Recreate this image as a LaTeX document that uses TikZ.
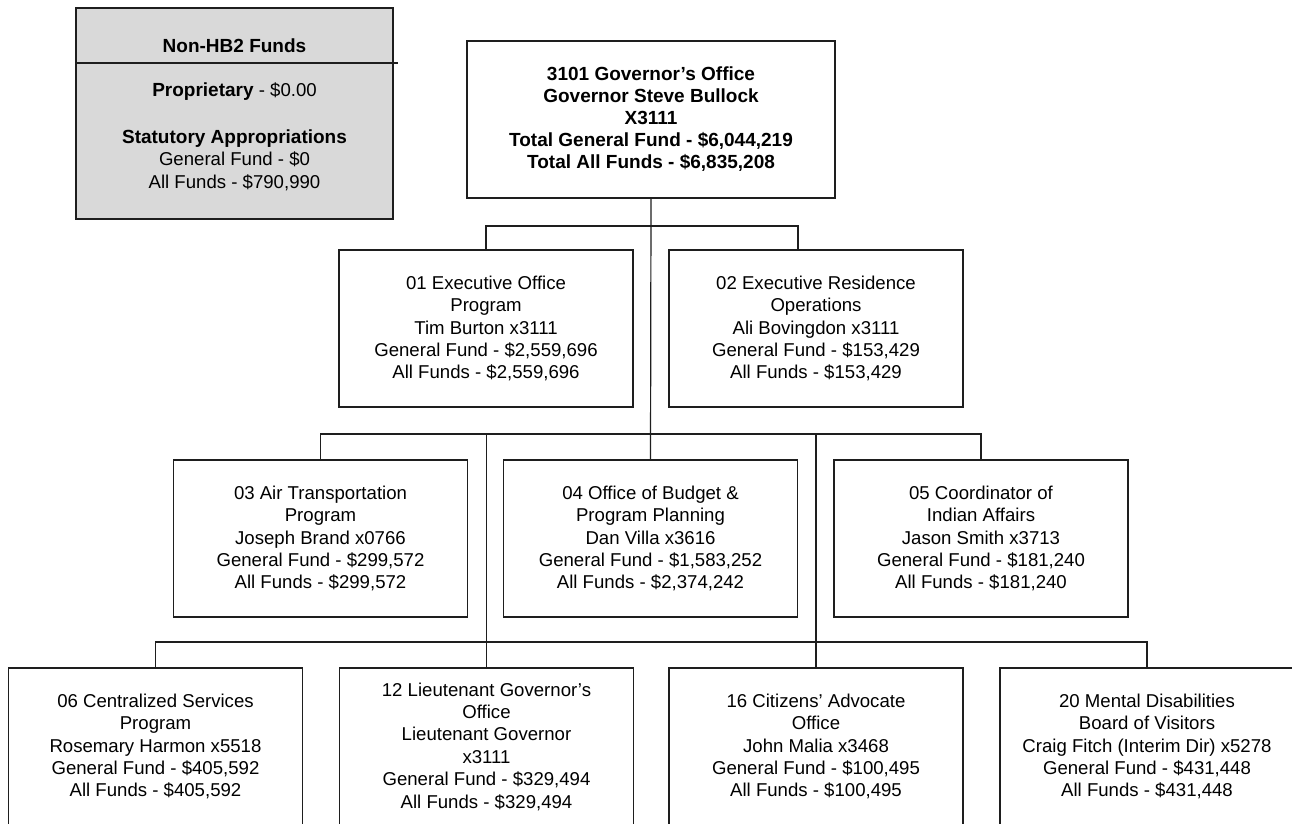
\documentclass[tikz,border=0pt]{standalone}
\usepackage{fontspec}
\setmainfont{Liberation Sans}
\definecolor{boxgray}{RGB}{217,217,217}
\definecolor{linecol}{RGB}{30,30,30}
\tikzset{
  orgbox/.style={draw=linecol, line width=1.2pt, fill=white, inner sep=0pt,
    minimum width=294pt, minimum height=157pt, align=center,
    font=\fontsize{18.6}{22.4}\selectfont},
  topbox/.style={orgbox, minimum width=368pt, minimum height=157pt,
    font=\fontsize{19}{22}\selectfont\bfseries},
  conn/.style={draw=linecol, line width=1.2pt},
  plain/.style={inner sep=0pt, align=center, font=\fontsize{18.6}{22.4}\selectfont},
}
\begin{document}
\begin{tikzpicture}[x=1pt,y=-1pt]
\clip (0,0) rectangle (1292,823);
\fill[white] (0,0) rectangle (1292,823);

% Non-HB2 box
\node[draw=linecol, line width=2.4pt, fill=boxgray, inner sep=0pt,
  minimum width=317pt, minimum height=211pt] (nonhb) at (234.5,113.5) {};
\coordinate (divL) at (76,63);
\coordinate (divR) at (398,63);
\draw[conn] (divL) -- (divR);
\node[plain, font=\fontsize{19}{22}\selectfont\bfseries] (nhtitle) at (234.5,46) {Non-HB2 Funds};
\node[plain] (nhprop) at (234.5,92) {{\fontsize{19}{22}\selectfont\bfseries Proprietary} - \$0.00};
\node[plain] (nhstat) at (234.5,160) {{\fontsize{19}{22}\selectfont\bfseries Statutory Appropriations}\\General Fund - \$0\\All Funds - \$790,990};

% top
\node[topbox] (top) at (651,119.5) {3101 Governor’s Office\\Governor Steve Bullock\\X3111\\Total General Fund - \$6,044,219\\Total All Funds - \$6,835,208};

% row 2
\node[orgbox] (b01) at (486,328.5) {01 Executive Office\\Program\\Tim Burton x3111\\General Fund - \$2,559,696\\All Funds - \$2,559,696};
\node[orgbox] (b02) at (816,328.5) {02 Executive Residence\\Operations\\Ali Bovingdon x3111\\General Fund - \$153,429\\All Funds - \$153,429};

% row 3
\node[orgbox] (b03) at (320.5,538.5) {03 Air Transportation\\Program\\Joseph Brand x0766\\General Fund - \$299,572\\All Funds - \$299,572};
\node[orgbox] (b04) at (650.5,538.5) {04 Office of Budget \&\\Program Planning\\Dan Villa x3616\\General Fund - \$1,583,252\\All Funds - \$2,374,242};
\node[orgbox] (b05) at (981,538.5) {05 Coordinator of\\Indian Affairs\\Jason Smith x3713\\General Fund - \$181,240\\All Funds - \$181,240};

% row 4
\node[orgbox] (b06) at (155.5,746.5) {06 Centralized Services\\Program\\Rosemary Harmon x5518\\General Fund - \$405,592\\All Funds - \$405,592};
\node[orgbox] (b12) at (486.5,746.5) {12 Lieutenant Governor’s\\Office\\Lieutenant Governor\\x3111\\General Fund - \$329,494\\All Funds - \$329,494};
\node[orgbox] (b16) at (816,746.5) {16 Citizens’ Advocate\\Office\\John Malia x3468\\General Fund - \$100,495\\All Funds - \$100,495};
\node[orgbox] (b20) at (1147,746.5) {20 Mental Disabilities\\Board of Visitors\\Craig Fitch (Interim Dir) x5278\\General Fund - \$431,448\\All Funds - \$431,448};

% connectors
\coordinate (bar2) at (651,226);
\coordinate (bar3) at (651,434);
\coordinate (bar4) at (651,642);
\coordinate (j02) at (798,250);

\draw[conn] (top.south) -- (b04.north);
\draw[conn] (b01.north) -- (b01.north |- bar2) -- (j02 |- bar2) -- (j02);
\draw[conn] (b03.north) -- (b03.north |- bar3) -- (b05.north |- bar3) -- (b05.north);
\draw[conn] (b12.north |- bar3) -- (b12.north);
\draw[conn] (b16.north |- bar3) -- (b16.north);
\draw[conn] (b06.north) -- (b06.north |- bar4) -- (b20.north |- bar4) -- (b20.north);
\end{tikzpicture}
\end{document}
